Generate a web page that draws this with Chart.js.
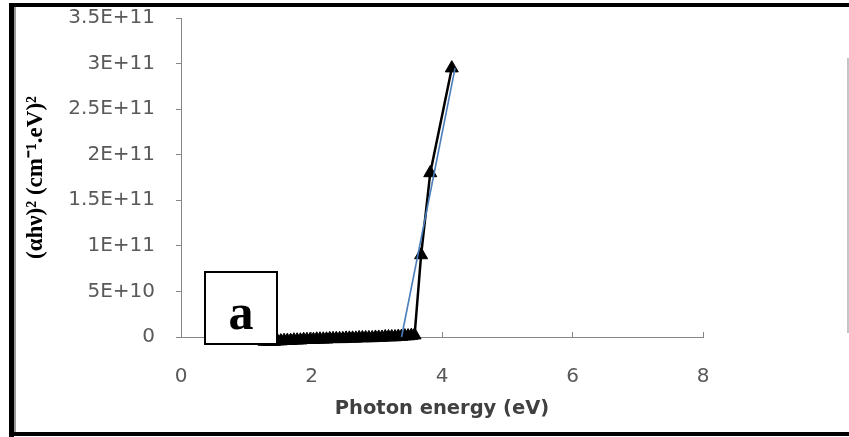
<!DOCTYPE html>
<html lang="en">
<head>
    <meta charset="UTF-8">
    <title>Tauc plot</title>
    <script src="https://cdn.jsdelivr.net/npm/chart.js"></script>
    <style>
        body {
            margin: 0;
            padding: 0;
            background: #ffffff;
        }

        #marco {
            position: relative;
            width: 849px;
            height: 437px;
            overflow: hidden;
        }

        #grafico {
            position: absolute;
            left: 0;
            top: 0;
        }

        .borde {
            position: absolute;
            background: #000000;
        }

        #etiqueta {
            position: absolute;
            left: 204px;
            top: 271px;
            width: 70px;
            height: 70px;
            border: 2px solid #000;
            background: #fff;
            font-family: "Liberation Serif", "Times New Roman", serif;
            font-weight: bold;
            font-size: 50px;
            line-height: 78px;
            text-align: center;
        }
    </style>
</head>
<body>

<div id="marco">
    <canvas id="grafico" width="849" height="437"></canvas>
    <div class="borde" style="left:9px; top:3px; width:840px; height:4px;"></div>
    <div class="borde" style="left:9px; top:3px; width:5px; height:434px;"></div>
    <div class="borde" style="left:9px; top:432px; width:840px; height:4px;"></div>
    <div class="borde" style="left:14px; top:7px; width:2px; height:425px; background:#9a9a9a;"></div>
    <div class="borde" style="left:847px; top:58px; width:2px; height:275px; background:#c4c4c4;"></div>
    <div id="etiqueta">a</div>
</div>

<script>
    // energía del fotón (eV) y (αhν)^2 medidos
    const energia = [1.28, 1.33, 1.38, 1.43, 1.48, 1.53, 1.58, 1.63, 1.68, 1.73,
        1.78, 1.83, 1.88, 1.93, 1.98, 2.03, 2.08, 2.13, 2.18, 2.23,
        2.28, 2.33, 2.38, 2.43, 2.48, 2.53, 2.58, 2.63, 2.68, 2.73,
        2.78, 2.83, 2.88, 2.93, 2.98, 3.03, 3.08, 3.13, 3.18, 3.23,
        3.28, 3.33, 3.38, 3.43, 3.48, 3.53, 3.58, 3.68, 3.82, 4.15];
    const alfaHv2 = [-5e9, -5e9, -5e9, -5e9, -4.5e9, -4.5e9, -4e9, -4e9, -4e9, -3.5e9,
        -3.5e9, -3.5e9, -3e9, -3e9, -3e9, -3e9, -2.5e9, -2.5e9, -2.5e9, -2.5e9,
        -2e9, -2e9, -2e9, -2e9, -2e9, -1.5e9, -1.5e9, -1.5e9, -1.5e9, -1e9,
        -1e9, -1e9, -1e9, -1e9, -0.5e9, -0.5e9, -0.5e9, 0, 0, 0,
        0, 0.5e9, 0.5e9, 1e9, 1e9, 1.5e9, 2e9, 9.0e10, 1.8e11, 2.95e11];

    // recta de ajuste (extrapolación)
    const ajusteX = [3.38, 4.20];
    const ajusteY = [0, 2.95e11];

    const ejeX = { min: 0, max: 8, paso: 2 };
    const ejeY = { min: 0, max: 3.5e11, paso: 5e10 };

    const gris = '#868686';
    const textoGris = '#595959';

    function etiquetaY(valor) {
        if (valor === 0) return '0';
        return valor.toExponential().toUpperCase();
    }

    const ctx = document.getElementById('grafico').getContext('2d');

    const grafico = new Chart(ctx, {
        type: 'scatter',
        data: {
            datasets: [{
                label: 'ajuste',
                data: ajusteX.map((x, i) => ({ x: x, y: ajusteY[i] })),
                showLine: true,
                borderColor: '#4a7ebb',
                borderWidth: 1.6,
                pointRadius: 0,
                clip: false
            }, {
                label: 'datos',
                data: energia.map((x, i) => ({ x: x, y: alfaHv2[i] })),
                showLine: true,
                borderColor: '#000000',
                backgroundColor: '#000000',
                borderWidth: 2.5,
                pointStyle: 'triangle',
                pointRadius: 7.5,
                pointBorderWidth: 1,
                clip: false
            }]
        },
        options: {
            responsive: false,
            animation: false,
            layout: {
                padding: { left: 22, right: 146, top: 18, bottom: 16 }
            },
            plugins: {
                legend: { display: false },
                tooltip: { enabled: false }
            },
            scales: {
                x: {
                    type: 'linear',
                    min: ejeX.min,
                    max: ejeX.max,
                    afterFit: function (escala) { escala.height = 84; },
                    border: { color: gris, width: 1 },
                    grid: {
                        drawOnChartArea: false,
                        color: gris,
                        tickLength: -5
                    },
                    ticks: {
                        stepSize: ejeX.paso,
                        padding: 33,
                        color: textoGris,
                        font: { family: 'DejaVu Sans', size: 20 }
                    },
                    title: {
                        display: true,
                        text: 'Photon energy (eV)',
                        color: '#404040',
                        padding: 0,
                        font: { family: 'DejaVu Sans', size: 19.5, weight: 'bold' }
                    }
                },
                y: {
                    type: 'linear',
                    min: ejeY.min,
                    max: ejeY.max,
                    afterFit: function (escala) {
                        escala.width = 159;
                        escala.paddingTop = 10;
                        escala.paddingBottom = 10;
                    },
                    border: { color: gris, width: 1 },
                    grid: {
                        drawOnChartArea: false,
                        color: gris,
                        tickLength: 5
                    },
                    ticks: {
                        stepSize: ejeY.paso,
                        padding: 21,
                        color: textoGris,
                        font: { family: 'DejaVu Sans', size: 20 },
                        callback: etiquetaY
                    },
                    title: {
                        display: true,
                        text: '(αhν)² (cm⁻¹.eV)²',
                        color: '#000000',
                        padding: 0,
                        font: { family: 'Liberation Serif', size: 23, weight: 'bold' }
                    }
                }
            }
        }
    });
</script>

</body>
</html>
